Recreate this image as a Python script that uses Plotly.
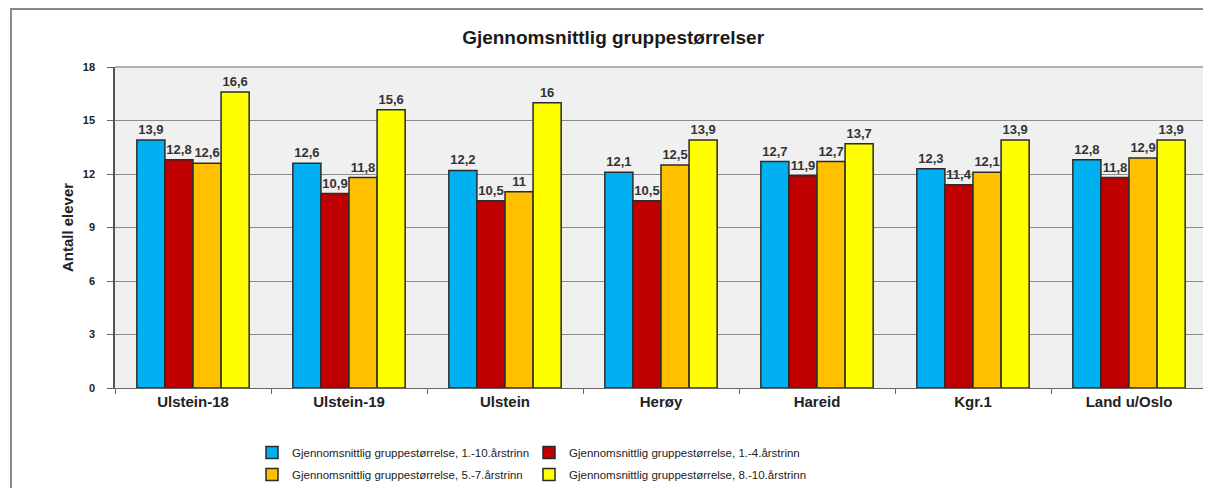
import plotly.graph_objects as go

categories = ["Ulstein-18", "Ulstein-19", "Ulstein", "Herøy", "Hareid", "Kgr.1", "Land u/Oslo"]
series_names = [
    "Gjennomsnittlig gruppestørrelse, 1.-10.årstrinn",
    "Gjennomsnittlig gruppestørrelse, 1.-4.årstrinn",
    "Gjennomsnittlig gruppestørrelse, 5.-7.årstrinn",
    "Gjennomsnittlig gruppestørrelse, 8.-10.årstrinn",
]
s_1_10 = [13.9, 12.6, 12.2, 12.1, 12.7, 12.3, 12.8]
s_1_4 = [12.8, 10.9, 10.5, 10.5, 11.9, 11.4, 11.8]
s_5_7 = [12.6, 11.8, 11.0, 12.5, 12.7, 12.1, 12.9]
s_8_10 = [16.6, 15.6, 16.0, 13.9, 13.7, 13.9, 13.9]
colors = ["#00B0F0", "#C00000", "#FFC000", "#FFFF00"]
y_ticks = [0, 3, 6, 9, 12, 15, 18]

# page body has an 8px margin: the figure is drawn offset by (8, 8)
OFF = 8
W, H = 1211 - OFF, 488 - OFF
L, R, T, B = 115 - OFF, 4, 67 - OFF, 100

fig = go.Figure()
legend_ids = ["legend", "legend", "legend2", "legend2"]
for name, vals, col, lg in zip(series_names, [s_1_10, s_1_4, s_5_7, s_8_10], colors, legend_ids):
    fig.add_trace(go.Bar(
        name=name, x=categories, y=vals, legend=lg,
        marker=dict(color=col, line=dict(color="#2b2b2b", width=1.5)),
        text=[("%g" % v).replace(".", ",") for v in vals],
        textposition="outside", constraintext="none", cliponaxis=False,
        textfont=dict(family="Liberation Sans, Arial", size=13, color="#333333", weight="bold"),
    ))

pw = W - L - R
ph = H - T - B
def px_x(x):  # reference screenshot pixel -> paper
    return (x - OFF - L) / pw
def px_y(y):
    return (H - B - (y - OFF)) / ph

leg_common = dict(orientation="h", xanchor="left", yanchor="top",
                  font=dict(family="Liberation Sans, Arial", size=11.5, color="#222222"),
                  entrywidth=232, entrywidthmode="pixels", traceorder="normal",
                  itemwidth=30, bgcolor="rgba(0,0,0,0)")

fig.update_layout(
    width=W, height=H,
    margin=dict(l=L, r=R, t=T, b=B, autoexpand=False),
    paper_bgcolor="white", plot_bgcolor="#f0f0f0",
    barmode="group", bargap=0.28, bargroupgap=0,
    separators=",.",
    font=dict(family="Liberation Sans, Arial", color="#222222"),
    title=dict(text="<b>Gjennomsnittlig gruppestørrelser</b>", x=0.503, xanchor="center",
               y=1 - (37 - OFF) / H, yanchor="middle",
               font=dict(family="Liberation Sans, Arial", size=19, color="#1a1a1a")),
    showlegend=True,
    legend=dict(x=px_x(252), y=px_y(438), **leg_common),
    legend2=dict(x=px_x(252), y=px_y(460), **leg_common),
    xaxis=dict(
        showgrid=False, showline=True, linecolor="#666666", linewidth=1,
        ticks="outside", tickson="boundaries", ticklen=5, tickcolor="#666666",
        tickfont=dict(family="Liberation Sans, Arial", size=15, color="#222222", weight="bold"),
        automargin=False,
    ),
    yaxis=dict(
        range=[0, 18], tickvals=y_ticks, showgrid=True, gridcolor="#8c8c8c", gridwidth=1,
        showline=True, linecolor="#555555", linewidth=1.5,
        ticks="outside", ticklen=6, tickcolor="#666666", ticklabelstandoff=10,
        tickfont=dict(family="Liberation Sans, Arial", size=11, color="#222222", weight="bold"),
        zeroline=False, automargin=False,
        title=dict(text="Antall elever", standoff=6,
                   font=dict(family="Liberation Sans Narrow, Arial Narrow, Liberation Sans", size=15,
                             color="#222222", weight="bold")),
    ),
    shapes=[
        dict(type="line", xref="paper", yref="paper", x0=0, x1=1, y0=1, y1=1,
             line=dict(color="#9a9a9a", width=1.5)),
        dict(type="line", xref="paper", yref="paper", x0=1, x1=1, y0=0, y1=1,
             line=dict(color="#9a9a9a", width=1.5)),
        dict(type="line", xref="paper", yref="paper", x0=px_x(10), x1=px_x(1215), y0=px_y(9), y1=px_y(9),
             line=dict(color="#8a8a8a", width=2)),
        dict(type="line", xref="paper", yref="paper", x0=px_x(11), x1=px_x(11), y0=px_y(9), y1=px_y(495),
             line=dict(color="#8a8a8a", width=2)),
    ],
)

fig.write_html("out.html")
